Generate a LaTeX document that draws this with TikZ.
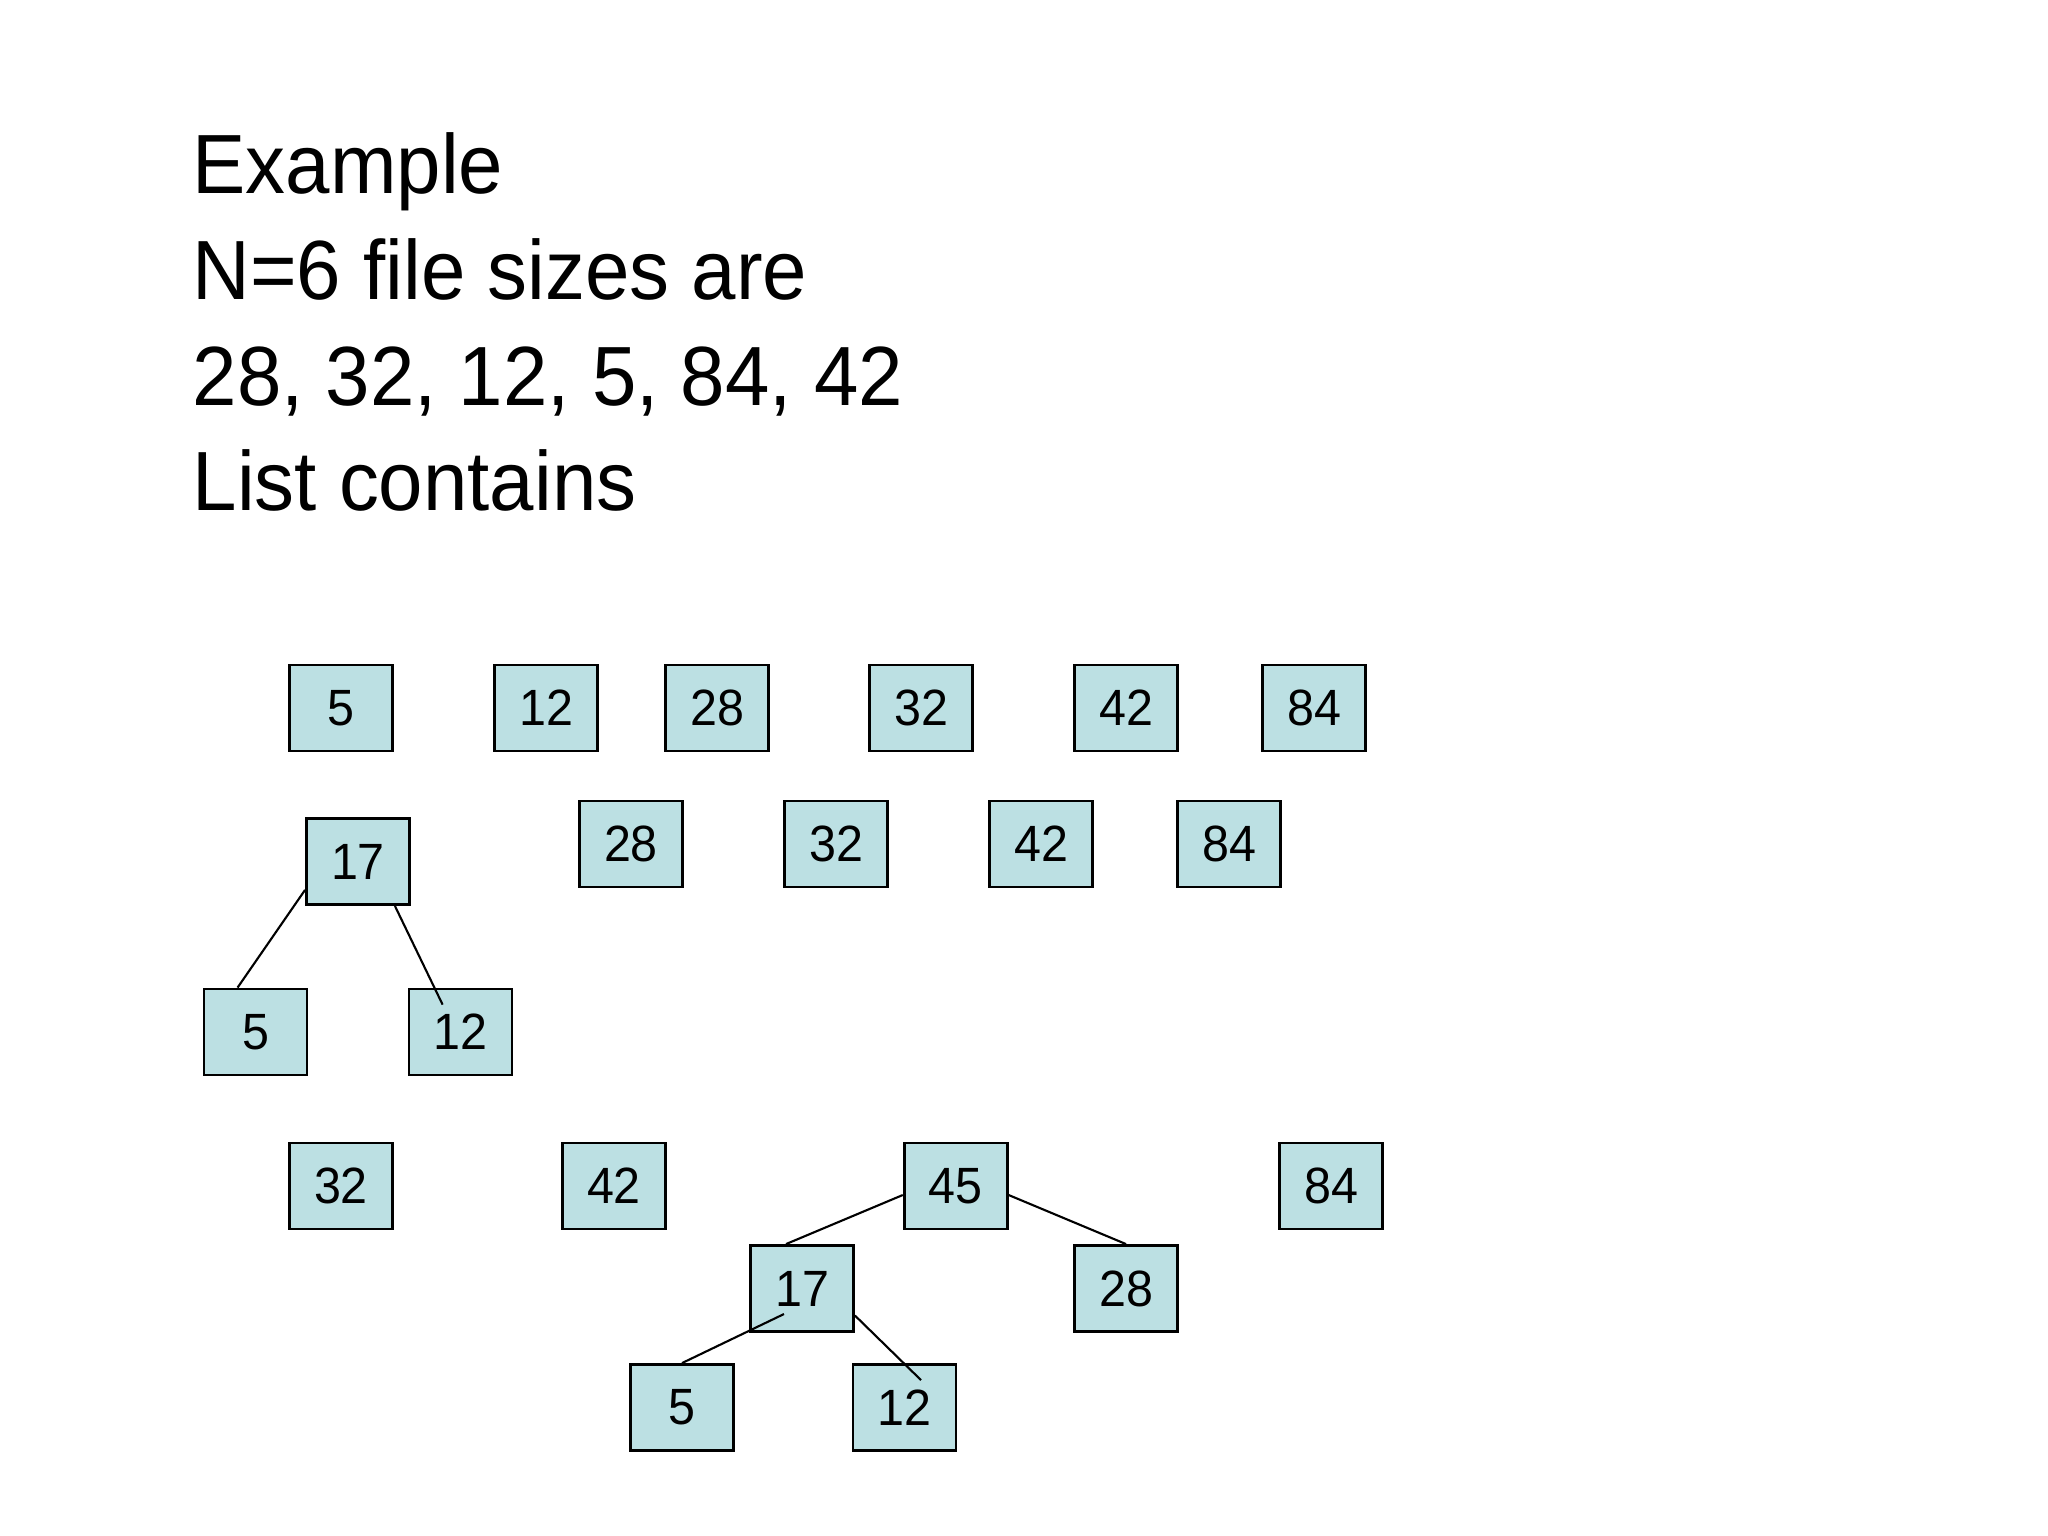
\documentclass[tikz,border=0pt]{standalone}
\usepackage{graphicx}
\usepackage{fontspec}
\setmainfont{Liberation Sans}
\definecolor{boxfill}{RGB}{188,224,227}
\newcommand{\narrow}[1]{\scalebox{0.95}[1]{#1}}
\tikzset{
    filebox/.style={draw=black,line width=0.8pt,fill=boxfill,minimum width=1.03cm,minimum height=0.86cm,inner sep=0pt,font=\fontsize{14.5}{17}\selectfont},
    link/.style={line width=0.6pt},
    headline/.style={anchor=base west,inner sep=0pt,font=\fontsize{23.9}{30}\selectfont},
}

\begin{document}
\begin{tikzpicture}[x=0.01cm,y=-0.01cm]
            \useasboundingbox (0,0) rectangle (2048,1536);
            \node[headline] (h1) at (192,193) {\narrow{Example}};
            \node[headline] (h2) at (192,299) {\narrow{N=6 file sizes are}};
            \node[headline] (h3) at (192,405) {\narrow{28, 32, 12, 5, 84, 42}};
            \node[headline] (h4) at (192,510) {\narrow{List contains}};
            \foreach \v/\x in {5/341,12/546,28/717,32/921,42/1126,84/1314}{
                \node[filebox] (r1-\v) at (\x,708) {\narrow{\v}};
            }
            \foreach \v/\x in {28/631,32/836,42/1041,84/1229}{
                \node[filebox] (r2-\v) at (\x,844) {\narrow{\v}};
            }
            \node[filebox] (a17) at (358,861.5) {\narrow{17}};
            \node[filebox] (a5) at (255.5,1032) {\narrow{5}};
            \node[filebox] (a12) at (460.5,1032) {\narrow{12}};
            \draw[link] ([yshift=0.16cm]a17.south west)--([xshift=0.35cm]a5.north west);
            \draw[link] ([xshift=-0.16cm]a17.south east)--([xshift=0.35cm,yshift=-0.17cm]a12.north west);
            \foreach \v/\x in {32/341,42/614,84/1331}{
                \node[filebox] (r3-\v) at (\x,1186) {\narrow{\v}};
            }
            \node[filebox] (b45) at (955.7,1186) {\narrow{45}};
            \node[filebox] (b17) at (802,1288.5) {\narrow{17}};
            \node[filebox] (b28) at (1126,1288.5) {\narrow{28}};
            \node[filebox] (b5) at (682,1407.5) {\narrow{5}};
            \node[filebox] (b12) at (904.5,1407.5) {\narrow{12}};
            \draw[link] ([yshift=-0.09cm]b45.west)--([xshift=-0.16cm]b17.north);
            \draw[link] ([yshift=-0.09cm]b45.east)--(b28.north);
            \draw[link] ([yshift=-0.27cm]b17.east)--([xshift=0.165cm,yshift=-0.17cm]b12.north);
            \draw[link] ([xshift=-0.18cm,yshift=-0.255cm]b17.center)--(b5.north);
        \end{tikzpicture}
\end{document}
